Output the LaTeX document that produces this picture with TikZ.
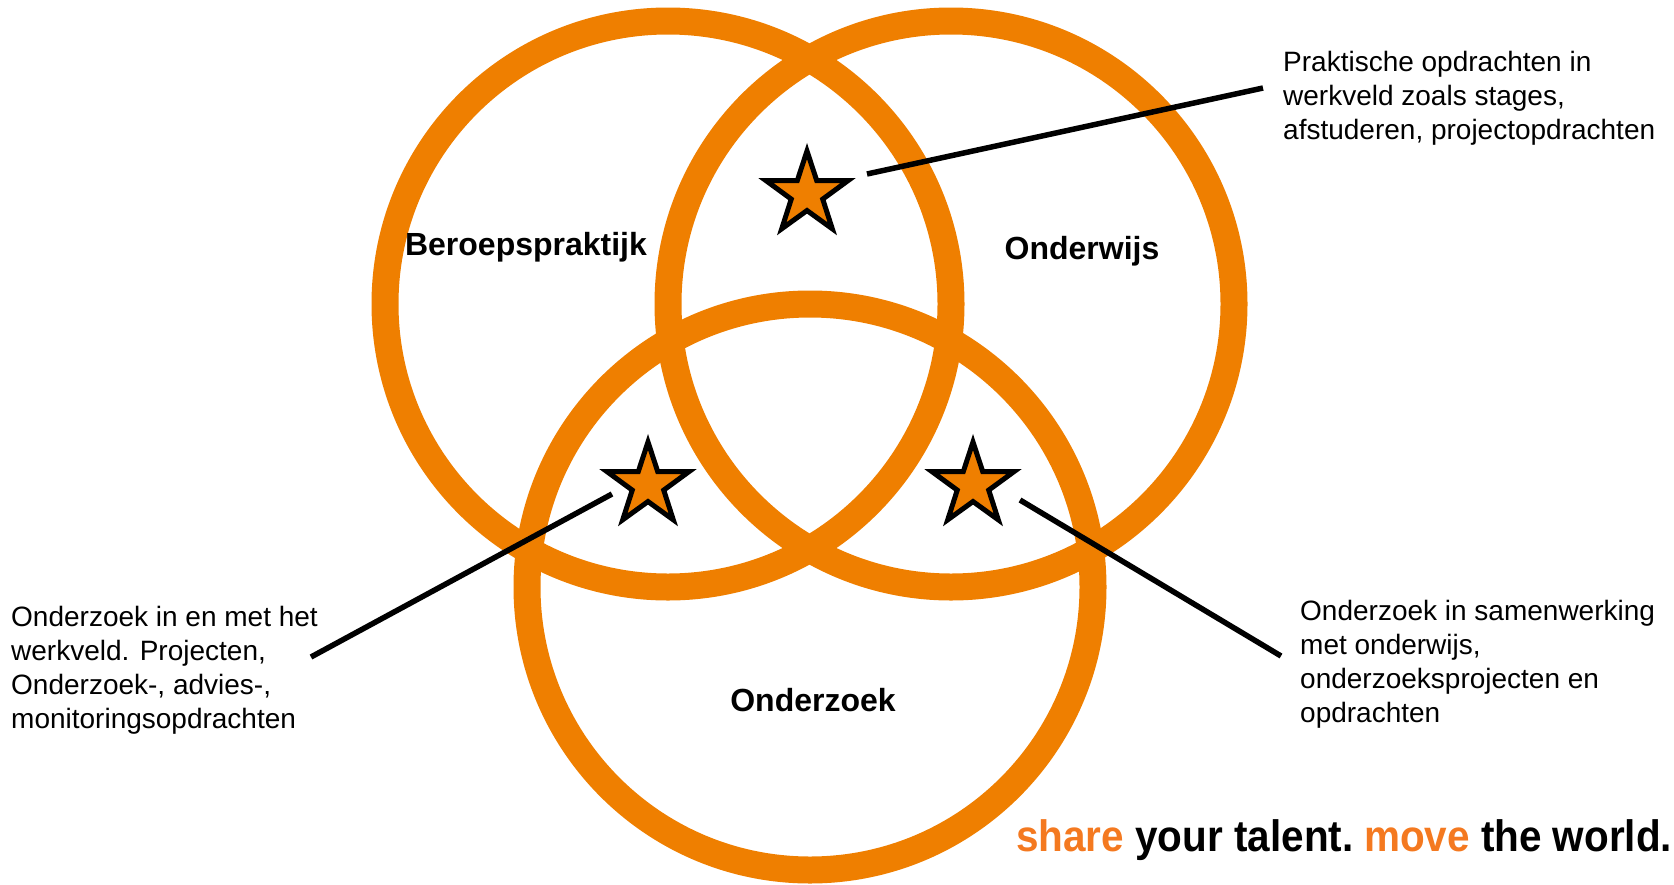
\documentclass[tikz,border=0pt]{standalone}
\usepackage{fontspec}
\setmainfont{Liberation Sans}
\usetikzlibrary{shapes.geometric}
\definecolor{ringorange}{RGB}{239,127,0}
\definecolor{sloganorange}{RGB}{244,121,32}
\begin{document}
\begin{tikzpicture}[x=1pt, y=-1pt,
	ring/.style={draw=ringorange, line width=27pt},
	starmark/.style={star, star points=5, star point ratio=2.6, minimum size=86pt, inner sep=0pt, fill=ringorange, draw=black, line width=5pt},
	leader/.style={draw=black, line width=5.5pt},
	setname/.style={font=\fontsize{32}{38}\selectfont\bfseries, anchor=base, inner sep=0pt},
	note/.style={font=\fontsize{28}{34}\selectfont, align=left, anchor=north west, inner sep=0pt}]
	\useasboundingbox (0,0) rectangle (1674,884);
	% drie cirkels
	\coordinate (praktijk) at (668,304);
	\coordinate (onderwijs) at (951,304);
	\coordinate (onderzoek) at (810,587);
	\draw[ring] (praktijk) circle[radius=283pt];
	\draw[ring] (onderwijs) circle[radius=283pt];
	\draw[ring] (onderzoek) circle[radius=283pt];
	\node[setname] (lpraktijk) at (526,255) {Beroepspraktijk};
	\node[setname] (londerwijs) at (1082,259) {Onderwijs};
	\node[setname] (londerzoek) at (813,711) {Onderzoek};
	% sterren
	\node[starmark] (ster1) at (807,194) {};
	\node[starmark] (ster2) at (648,485) {};
	\node[starmark] (ster3) at (973,485) {};
	% toelichting
	\node[note] (tekst1) at (1283,51) {Praktische opdrachten in\\werkveld zoals stages,\\afstuderen, projectopdrachten};
	\node[note] (tekst2) at (11,606) {Onderzoek in en met het\\werkveld. Projecten,\\Onderzoek-, advies-,\\monitoringsopdrachten};
	\node[note] (tekst3) at (1300,600) {Onderzoek in samenwerking\\met onderwijs,\\onderzoeksprojecten en\\opdrachten};
	\coordinate (van1) at (867,174);
	\coordinate (naar1) at (1263,88);
	\coordinate (van2) at (612,494);
	\coordinate (naar2) at (311,657);
	\coordinate (van3) at (1020,500);
	\coordinate (naar3) at (1281,656);
	\draw[leader] (van1) -- (naar1);
	\draw[leader] (van2) -- (naar2);
	\draw[leader] (van3) -- (naar3);
	% slogan
	\node[anchor=base west, inner sep=0pt, xscale=0.92, font=\fontsize{44}{50}\selectfont\bfseries] (slogan) at (1016,851) {\textcolor{sloganorange}{share} your talent.\hspace{-5pt} \textcolor{sloganorange}{move} the world.};
\end{tikzpicture}
\end{document}
